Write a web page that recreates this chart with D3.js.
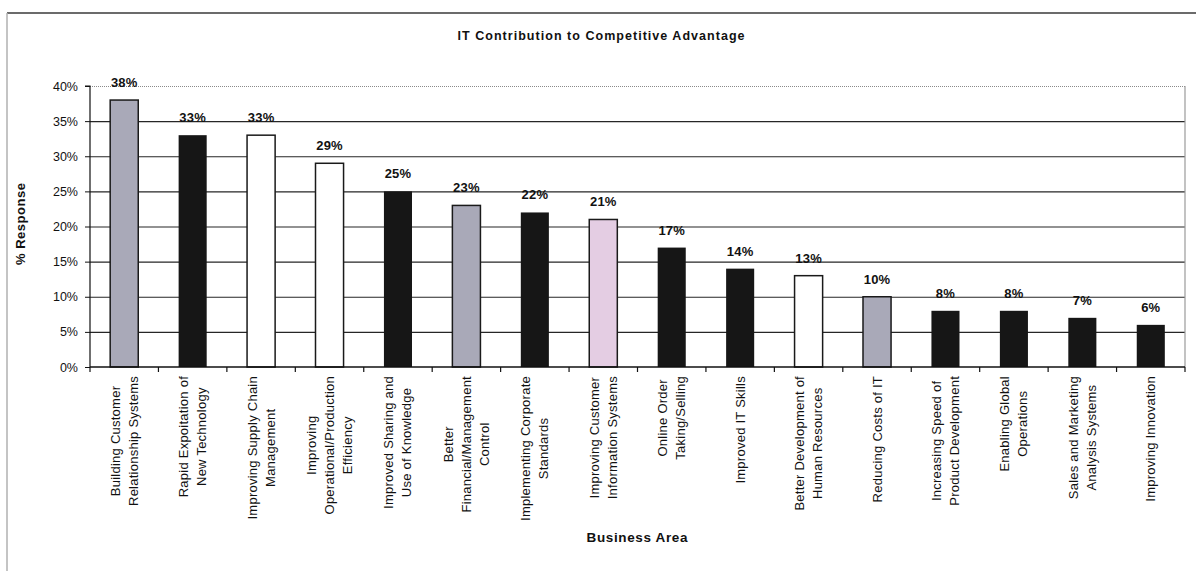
<!DOCTYPE html>
<html>
<head>
<meta charset="utf-8">
<script src="https://cdn.jsdelivr.net/npm/d3@7"></script>
<style>
  html, body { margin: 0; padding: 0; background: #fff; }
  svg { display: block; font-family: Arial, "Liberation Sans", Helvetica, sans-serif; }
</style>
</head>
<body>
<svg id="chart" width="1196" height="571"></svg>
<script>
// Business areas and the share of respondents naming each one
const categories = [
  "Building Customer\nRelationship Systems",
  "Rapid Expoitation of\nNew Technology",
  "Improving Supply Chain\nManagement",
  "Improving\nOperational/Production\nEfficiency",
  "Improved Sharing and\nUse of Knowledge",
  "Better\nFinancial/Management\nControl",
  "Implementing Corporate\nStandards",
  "Improving Customer\nInformation Systems",
  "Online Order\nTaking/Selling",
  "Improved IT Skills",
  "Better Development of\nHuman Resources",
  "Reducing Costs of IT",
  "Increasing Speed of\nProduct Development",
  "Enabling Global\nOperations",
  "Sales and Marketing\nAnalysis Systems",
  "Improving Innovation"
];
const responses = [38, 33, 33, 29, 25, 23, 22, 21, 17, 14, 13, 10, 8, 8, 7, 6];
const yTicks = [0, 5, 10, 15, 20, 25, 30, 35, 40];

const titleText = "IT Contribution to Competitive Advantage";
const xTitle = "Business Area";
const yTitle = "% Response";

// Bar fills, one per business area
const GRAY = "#a9a9b8", BLACK = "#161616", WHITE = "#ffffff", PINK = "#e4cde3";
const fills = [GRAY, BLACK, WHITE, WHITE, BLACK, GRAY, BLACK, PINK,
               BLACK, BLACK, WHITE, GRAY, BLACK, BLACK, BLACK, BLACK];

const svg = d3.select("#chart");

const plot = { left: 90, right: 1185, top: 86, bottom: 367 };

const x = d3.scaleBand()
  .domain(categories)
  .range([plot.left, plot.right])
  .paddingInner(0.59)
  .paddingOuter(0.295);
const xSlots = d3.scaleBand()
  .domain(categories)
  .range([plot.left, plot.right])
  .padding(0);
const y = d3.scaleLinear().domain([0, 40]).range([plot.bottom, plot.top]);

// outer frame
svg.append("line")
  .attr("x1", 7).attr("x2", 1196).attr("y1", 13).attr("y2", 13)
  .attr("stroke", "#3a3a3a").attr("stroke-width", 1.5);
svg.append("line")
  .attr("x1", 7).attr("x2", 7).attr("y1", 13).attr("y2", 571)
  .attr("stroke", "#b0b0b0").attr("stroke-width", 1.5);

// title
svg.append("text")
  .attr("x", 601).attr("y", 39.5)
  .attr("text-anchor", "middle")
  .attr("font-size", 12.5).attr("font-weight", "bold")
  .attr("textLength", 287).attr("lengthAdjust", "spacing")
  .attr("fill", "#111")
  .text(titleText);

// horizontal gridlines
svg.append("g").selectAll("line")
  .data(yTicks.filter(d => d > 0 && d < 40))
  .join("line")
  .attr("x1", plot.left).attr("x2", plot.right)
  .attr("y1", d => y(d) + 0.5).attr("y2", d => y(d) + 0.5)
  .attr("stroke", "#262626").attr("stroke-width", 1.2);
svg.append("line")
  .attr("x1", plot.left).attr("x2", plot.right)
  .attr("y1", y(40) + 0.5).attr("y2", y(40) + 0.5)
  .attr("stroke", "#8a8a8a").attr("stroke-width", 1)
  .attr("stroke-dasharray", "1,1");
svg.append("line")
  .attr("x1", plot.right).attr("x2", plot.right)
  .attr("y1", y(40)).attr("y2", y(0))
  .attr("stroke", "#9a9a9a").attr("stroke-width", 1.2);

// bars
svg.append("g").selectAll("rect")
  .data(categories)
  .join("rect")
  .attr("x", d => x(d))
  .attr("width", x.bandwidth())
  .attr("y", (d, i) => y(responses[i]))
  .attr("height", (d, i) => y(0) - y(responses[i]))
  .attr("fill", (d, i) => fills[i])
  .attr("stroke", (d, i) => fills[i] === BLACK ? "none" : "#1a1a1a")
  .attr("stroke-width", 1.5);

// value labels
svg.append("g").selectAll("text")
  .data(categories)
  .join("text")
  .attr("x", d => x(d) + x.bandwidth() / 2)
  .attr("y", (d, i) => y(responses[i]) - 13)
  .attr("text-anchor", "middle")
  .attr("font-size", 13).attr("font-weight", "bold")
  .attr("letter-spacing", 0.2)
  .attr("fill", "#111")
  .text((d, i) => responses[i] + "%");

// y axis
const yAxis = svg.append("g")
  .attr("transform", `translate(${plot.left},0)`)
  .call(d3.axisLeft(y).tickValues(yTicks).tickFormat(d => d + "%").tickSize(5).tickPadding(7));
yAxis.select(".domain").attr("stroke", "#111").attr("stroke-width", 1.2).attr("d", `M-5,${y(40)}H0V${y(0)}`);
yAxis.selectAll(".tick line").attr("stroke", "#111");
yAxis.selectAll(".tick text")
  .attr("font-size", 12.5).attr("fill", "#111")
  .attr("font-family", "Arial, 'Liberation Sans', sans-serif");

// x axis baseline and slot ticks
svg.append("line")
  .attr("x1", plot.left).attr("x2", plot.right)
  .attr("y1", y(0)).attr("y2", y(0))
  .attr("stroke", "#111").attr("stroke-width", 1.5);
const boundaries = categories.map(c => xSlots(c)).concat([plot.right]);
svg.append("g").selectAll("line")
  .data(boundaries)
  .join("line")
  .attr("x1", d => d).attr("x2", d => d)
  .attr("y1", y(0)).attr("y2", y(0) + 5)
  .attr("stroke", "#111").attr("stroke-width", 1.2);

// rotated category labels, lines centred on each other, block hanging from the axis
const lineGap = 18;
const catGroups = svg.append("g").selectAll("g")
  .data(categories)
  .join("g")
  .attr("transform", d => `translate(${x(d) + x.bandwidth() / 2},376) rotate(-90)`);
catGroups.each(function(d) {
  const g = d3.select(this);
  const lines = d.split("\n");
  const texts = lines.map((ln, i) => g.append("text")
    .attr("font-size", 13)
    .attr("letter-spacing", 0.25)
    .attr("fill", "#111")
    .attr("dominant-baseline", "central")
    .attr("text-anchor", "middle")
    .attr("y", (i - (lines.length - 1) / 2) * lineGap)
    .text(ln));
  const maxW = d3.max(texts, t => t.node().getComputedTextLength());
  texts.forEach(t => t.attr("x", -maxW / 2));
});

// axis titles
svg.append("text")
  .attr("x", 637).attr("y", 542)
  .attr("text-anchor", "middle")
  .attr("font-size", 13.5).attr("font-weight", "bold")
  .attr("textLength", 101).attr("lengthAdjust", "spacing")
  .attr("fill", "#111")
  .text(xTitle);
svg.append("text")
  .attr("transform", "translate(24.5,224) rotate(-90)")
  .attr("text-anchor", "middle")
  .attr("font-size", 13).attr("font-weight", "bold")
  .attr("textLength", 82).attr("lengthAdjust", "spacing")
  .attr("fill", "#111")
  .text(yTitle);
</script>
</body>
</html>
